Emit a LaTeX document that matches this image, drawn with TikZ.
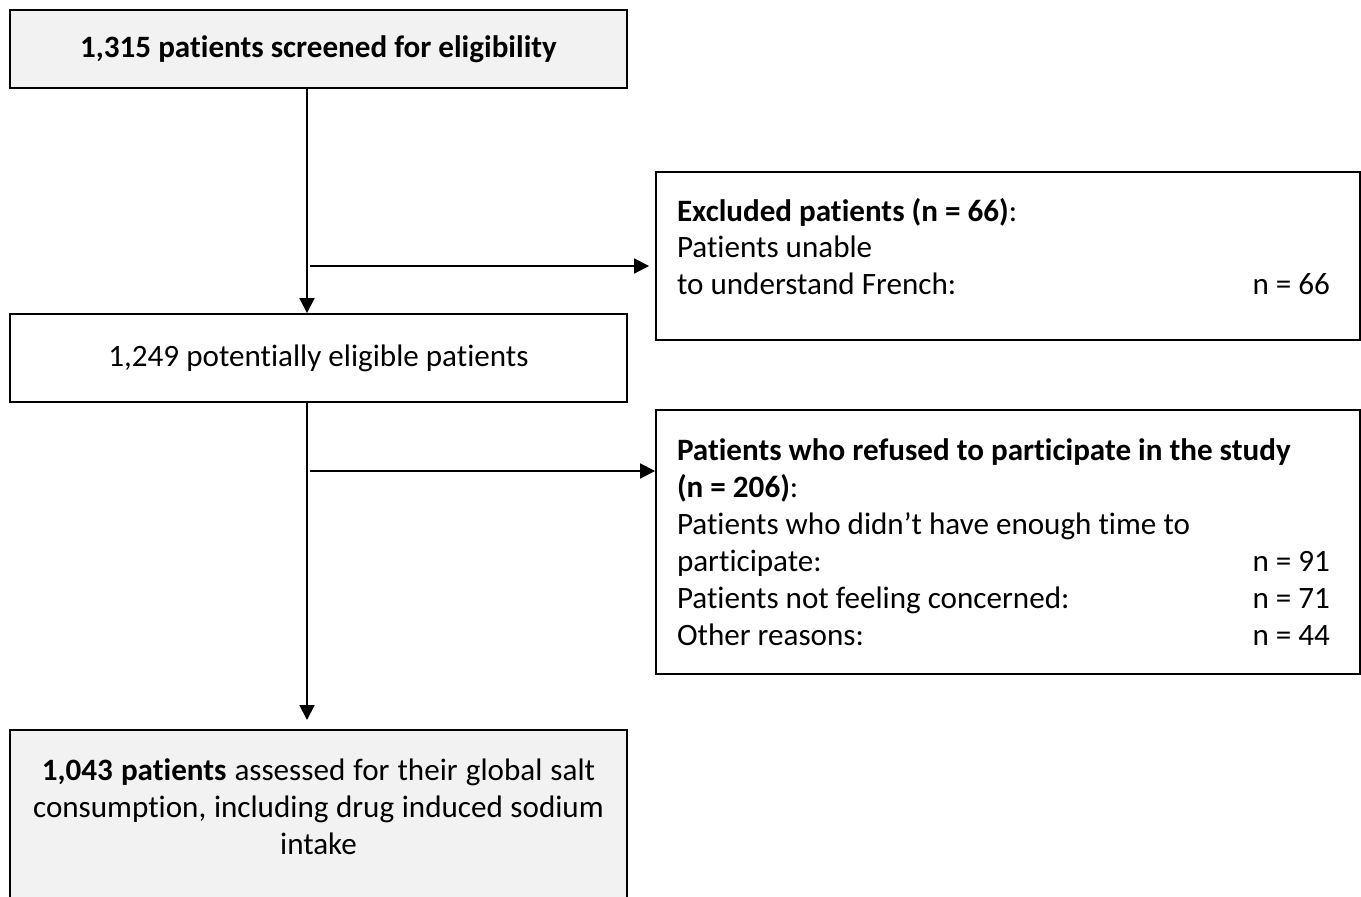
\documentclass[tikz,border=0pt]{standalone}
\usepackage{fontspec}
\setmainfont{Carlito}[Ligatures={NoCommon}]
\usepackage{tikz}
\usetikzlibrary{arrows.meta, positioning}

\definecolor{boxgray}{HTML}{F2F2F2}

\tikzset{
  box/.style={draw, line width=1.1pt, inner sep=0pt,
    font=\fontsize{17.7}{21}\selectfont,
    execute at begin node={\spaceskip=0pt\xspaceskip=0pt\relax}},
  leftbox/.style={box, minimum width=12.34cm},
  sidebox/.style={box, minimum width=14.08cm, text width=13.24cm, align=left,
    execute at begin node={\rightskip=0.18cm plus 1fil\relax}},
  arr/.style={line width=1.1pt, -{Triangle[length=8.5pt, width=8.5pt]}}
}

\begin{document}
\begin{tikzpicture}
    \useasboundingbox (0,0) rectangle (27.22,-17.92);

    % Screening
    \node[leftbox, fill=boxgray, minimum height=1.56cm] (screen) at (6.37,-0.98)
        {\textbf{1,315 patients screened for eligibility}};
    \node[leftbox, minimum height=1.76cm] (eligible) at (6.37,-7.16)
        {1,249 potentially eligible patients};

    % Exclusions
    \node[sidebox, minimum height=3.36cm, text height=0.8cm, text depth=2.2cm]
        (excluded) at (20.16,-5.12)
        {\textbf{Excluded patients (n = 66)}:\\
         Patients unable\\
         to understand French:\hfill n = 66};
    \node[sidebox, minimum height=5.28cm] (refused) at (20.16,-10.84)
        {\textbf{Patients who refused to participate in the study}\\
         \textbf{(n = 206)}:\\
         Patients who didn’t have enough time to\\
         participate:\hfill n = 91\\
         Patients not feeling concerned:\hfill n = 71\\
         Other reasons:\hfill n = 44};

    % Final sample
    \node[leftbox, fill=boxgray, anchor=north, inner ysep=0.12cm,
          text width=11.8cm, align=center, text height=0.9cm, text depth=3.5cm]
        (assessed) at (6.37,-14.58)
        {\textbf{1,043 patients} assessed for their global salt\\
         consumption, including drug induced sodium\\
         intake};

    % Connectors
    \coordinate (trunk) at (6.14,0);
    \coordinate (split1) at (6.2,-5.32);
    \coordinate (split2) at (6.2,-9.42);
    \draw[arr] (screen.south -| trunk) -- (eligible.north -| trunk);
    \draw[arr, shorten >=0.12cm] (split1) -- (split1 -| excluded.west);
    \draw[arr, shorten >=0.18cm] (eligible.south -| trunk) -- (assessed.north -| trunk);
    \draw[arr] (split2) -- (split2 -| refused.west);
\end{tikzpicture}
\end{document}
